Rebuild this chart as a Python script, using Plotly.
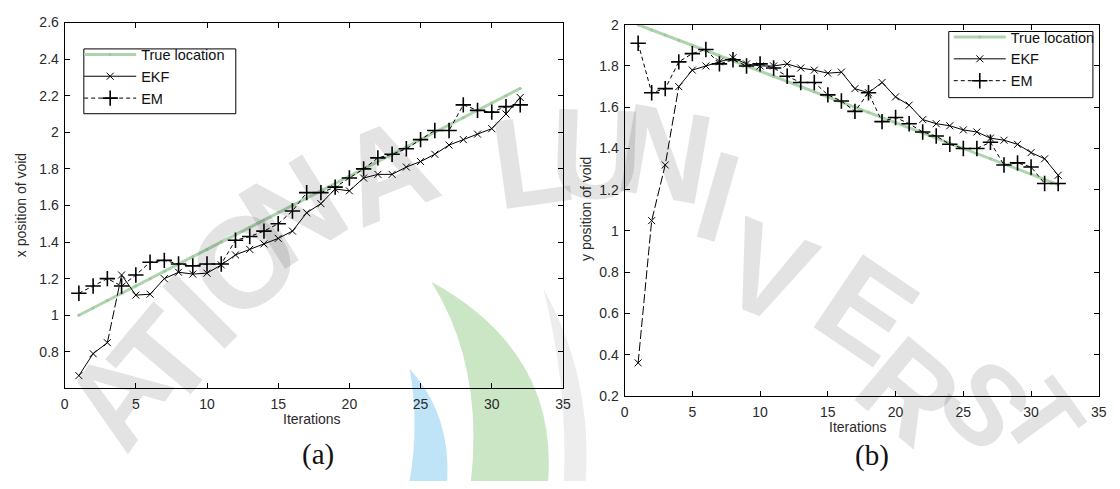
import plotly.graph_objects as go

# ---------------- data ----------------
iterations = list(range(1, 33))

# (a) x position of the void
true_x = [1.00, 1.04, 1.08, 1.12, 1.16, 1.20, 1.24, 1.28, 1.32, 1.36, 1.40, 1.44,
          1.48, 1.52, 1.56, 1.60, 1.64, 1.68, 1.72, 1.76, 1.80, 1.84, 1.88, 1.92,
          1.96, 2.00, 2.04, 2.08, 2.12, 2.16, 2.20, 2.24]
ekf_x = [0.67, 0.79, 0.85, 1.22, 1.11, 1.115, 1.20, 1.235, 1.225, 1.23, 1.275, 1.33,
         1.36, 1.39, 1.42, 1.46, 1.56, 1.61, 1.69, 1.68, 1.75, 1.77, 1.77, 1.81,
         1.84, 1.88, 1.93, 1.96, 1.99, 2.02, 2.10, 2.19]
em_x = [1.12, 1.16, 1.20, 1.16, 1.22, 1.29, 1.30, 1.28, 1.27, 1.28, 1.28, 1.41,
        1.43, 1.46, 1.50, 1.57, 1.67, 1.67, 1.70, 1.75, 1.80, 1.86, 1.88, 1.91,
        1.96, 2.01, 2.01, 2.15, 2.12, 2.11, 2.14, 2.15]

# (b) y position of the void
true_y = [2.000, 1.975, 1.950, 1.925, 1.900, 1.875, 1.850, 1.825, 1.800, 1.775,
          1.750, 1.725, 1.700, 1.675, 1.650, 1.625, 1.600, 1.575, 1.550, 1.525,
          1.500, 1.475, 1.450, 1.425, 1.400, 1.375, 1.350, 1.325, 1.300, 1.275,
          1.250, 1.225]
ekf_y = [0.36, 1.05, 1.32, 1.70, 1.78, 1.80, 1.82, 1.84, 1.81, 1.80, 1.80, 1.81,
         1.79, 1.78, 1.765, 1.77, 1.69, 1.67, 1.72, 1.65, 1.61, 1.54, 1.52, 1.51,
         1.49, 1.48, 1.45, 1.44, 1.42, 1.38, 1.35, 1.27]
em_y = [1.91, 1.67, 1.69, 1.82, 1.86, 1.88, 1.81, 1.83, 1.80, 1.81, 1.79, 1.75,
        1.72, 1.72, 1.66, 1.63, 1.58, 1.67, 1.53, 1.55, 1.52, 1.48, 1.46, 1.42,
        1.40, 1.40, 1.43, 1.32, 1.33, 1.31, 1.23, 1.23]

x_ticks = [0, 5, 10, 15, 20, 25, 30, 35]
y_ticks_a = [0.8, 1.0, 1.2, 1.4, 1.6, 1.8, 2.0, 2.2, 2.4, 2.6]
y_ticks_b = [0.2, 0.4, 0.6, 0.8, 1.0, 1.2, 1.4, 1.6, 1.8, 2.0]

# ---------------- styling ----------------
W, H = 1120, 489
GREEN = "#aed4ae"
FONT = "Liberation Sans, Arial, sans-serif"
TXT = "#2a2a2a"


def px_x(p):
    return p / W


def px_y(p):
    return 1 - p / H


fig = go.Figure()


def add_panel(xa, ya, leg, truth, ekf, em, dash_from, dash_to):
    """One panel: truth line, EKF (solid, with a long-dashed opening jump), EM."""
    fig.add_trace(go.Scatter(
        x=iterations, y=truth, name="True location", mode="lines+markers",
        line=dict(color=GREEN, width=3),
        marker=dict(symbol="circle", size=3, color="#9cc89c"),
        xaxis=xa, yaxis=ya, legend=leg))
    ekf_marker = dict(symbol="x-thin", size=7, color="black",
                      line=dict(color="black", width=1))
    if dash_from > 0:
        fig.add_trace(go.Scatter(
            x=iterations[:dash_from + 1], y=ekf[:dash_from + 1], mode="lines",
            line=dict(color="black", width=1), showlegend=False,
            xaxis=xa, yaxis=ya, hoverinfo="skip"))
    fig.add_trace(go.Scatter(
        x=iterations[dash_from:dash_to + 1], y=ekf[dash_from:dash_to + 1], mode="lines",
        line=dict(color="black", width=1, dash="9px,3px"), showlegend=False,
        xaxis=xa, yaxis=ya, hoverinfo="skip"))
    fig.add_trace(go.Scatter(
        x=iterations[:dash_to], y=ekf[:dash_to], mode="markers",
        marker=ekf_marker, showlegend=False,
        xaxis=xa, yaxis=ya, hoverinfo="skip"))
    fig.add_trace(go.Scatter(
        x=iterations[dash_to:], y=ekf[dash_to:], name="EKF", mode="lines+markers",
        line=dict(color="black", width=1), marker=ekf_marker,
        xaxis=xa, yaxis=ya, legend=leg))
    fig.add_trace(go.Scatter(
        x=iterations, y=em, name="EM", mode="lines+markers",
        line=dict(color="black", width=1, dash="4px,3px"),
        marker=dict(symbol="cross-thin", size=11, color="black",
                    line=dict(color="black", width=1.6)),
        xaxis=xa, yaxis=ya, legend=leg))


add_panel("x", "y", "legend", true_x, ekf_x, em_x, 2, 3)
add_panel("x2", "y2", "legend2", true_y, ekf_y, em_y, 0, 3)

axis_common = dict(
    showline=True, linecolor="black", linewidth=1, mirror="ticks",
    ticks="inside", ticklen=5, tickwidth=1, tickcolor="black",
    showgrid=False, zeroline=False,
    tickfont=dict(family=FONT, size=14, color=TXT),
    tickmode="array",
)


def labels(vals):
    return [f"{v:g}" for v in vals]


# legend entries sit on transparent legends; their framed boxes are shapes
legend_common = dict(xanchor="left", yanchor="top", bgcolor="rgba(0,0,0,0)",
                     borderwidth=0, itemwidth=52,
                     font=dict(family=FONT, size=14.5, color="#111"),
                     tracegroupgap=0)

fig.update_layout(
    width=W, height=H,
    margin=dict(l=0, r=0, t=0, b=0),
    paper_bgcolor="white", plot_bgcolor="rgba(0,0,0,0)",
    font=dict(family=FONT, size=14, color=TXT),
    xaxis=dict(axis_common, domain=[px_x(61.3), px_x(565)], range=[0, 35],
               tickvals=x_ticks, ticktext=labels(x_ticks), anchor="y",
               ticklabelstandoff=3),
    yaxis=dict(axis_common, domain=[px_y(393.3), px_y(15)], range=[0.6, 2.6],
               tickvals=y_ticks_a, ticktext=labels(y_ticks_a), anchor="x",
               ticklabelstandoff=2),
    xaxis2=dict(axis_common, domain=[px_x(627.3), px_x(1106.7)], range=[0, 35],
                tickvals=x_ticks, ticktext=labels(x_ticks), anchor="y2",
                ticklabelstandoff=3),
    yaxis2=dict(axis_common, domain=[px_y(401), px_y(17.3)], range=[0.2, 2.0],
                tickvals=y_ticks_b, ticktext=labels(y_ticks_b), anchor="x2",
                ticklabelstandoff=2),
    legend=dict(legend_common, x=px_x(76), y=px_y(31.5)),
    legend2=dict(legend_common, x=px_x(955), y=px_y(13.5)),
    showlegend=True,
)

for x0, y0, x1, y1 in [(80.7, 42.3, 234.3, 109.3), (955, 24.3, 1100.7, 92.7)]:
    fig.add_shape(type="rect", xref="paper", yref="paper",
                  x0=px_x(x0), x1=px_x(x1), y0=px_y(y1), y1=px_y(y0),
                  fillcolor="white", line=dict(color="black", width=1), layer="above")

annotations = [
    dict(text="Iterations", x=px_x(311.7), y=px_y(425)),
    dict(text="Iterations", x=px_x(863), y=px_y(432.7)),
    dict(text="x position of void", x=px_x(18), y=px_y(204), textangle=-90),
    dict(text="y position of void", x=px_x(589), y=px_y(208), textangle=-90),
    dict(text="(a)", x=px_x(317.5), y=px_y(462),
         font=dict(family="Liberation Serif, Times New Roman, serif", size=29, color="#111")),
    dict(text="(b)", x=px_x(877.5), y=px_y(462.5),
         font=dict(family="Liberation Serif, Times New Roman, serif", size=29, color="#111")),
]
for a in annotations:
    fig.add_annotation(xref="paper", yref="paper", xanchor="center", yanchor="middle",
                       showarrow=False,
                       font=a.pop("font", dict(family=FONT, size=14, color=TXT)), **a)

# ---- faint seal behind the plots: arched lettering and crescents ----
# (letter, centre x px, centre y px, rotation deg, font size)
seal = [("A", 114, 402, -55, 122), ("T", 160, 362, -50, 128), ("I", 198, 313, -45, 128),
        ("O", 243, 262, -40, 128), ("N", 292, 210, -32, 128), ("A", 386, 168, -22, 128),
        ("L", 533, 158, -8, 128), ("U", 598, 150, 2, 128), ("N", 668, 150, 10, 128),
        ("I", 722, 195, 16, 128), ("V", 772, 272, 22, 128), ("E", 872, 312, 34, 128),
        ("R", 915, 396, 40, 122), ("S", 992, 410, 46, 112), ("T", 1050, 424, 54, 100)]
for ch, cx, cy, ang, fs in seal:
    fig.add_annotation(xref="paper", yref="paper", x=px_x(cx), y=px_y(cy),
                       xanchor="center", yanchor="middle", showarrow=False,
                       text=ch, textangle=ang,
                       font=dict(family="Liberation Sans", size=fs,
                                 color="rgba(0,0,0,0.11)", weight="bold"))


def path(points):
    out = []
    for cmd, pts in points:
        out.append(cmd + " ".join(f"{px_x(x):.5f},{px_y(y):.5f}" for x, y in pts))
    return " ".join(out) + " Z"


crescents = [
    ("rgba(150,205,140,0.5)",
     [("M", [(432, 283)]), ("Q", [(560, 355), (550, 489)]),
      ("L", [(472, 489)]), ("Q", [(485, 370), (432, 283)])]),
    ("rgba(140,205,240,0.55)",
     [("M", [(410, 373)]), ("Q", [(452, 420), (448, 489)]),
      ("L", [(410, 489)]), ("Q", [(420, 430), (410, 373)])]),
    ("rgba(0,0,0,0.07)",
     [("M", [(545, 290)]), ("Q", [(595, 380), (588, 489)]),
      ("L", [(566, 489)]), ("Q", [(570, 390), (545, 290)])]),
]
for color, pts in crescents:
    fig.add_shape(type="path", xref="paper", yref="paper", path=path(pts),
                  fillcolor=color, line=dict(width=0), layer="below")

fig.write_html("out.html")
